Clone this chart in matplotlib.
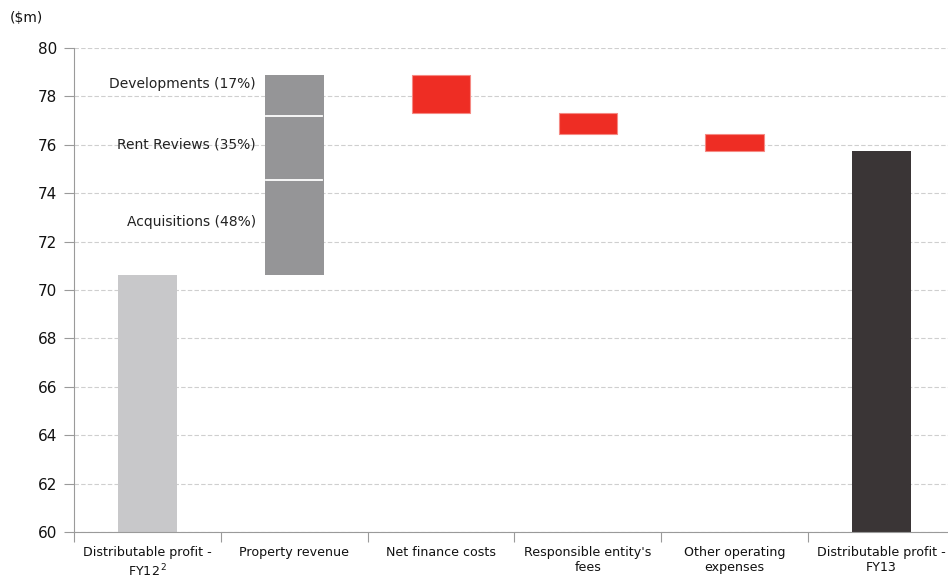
import matplotlib.pyplot as plt
import numpy as np

# waterfall values ($m)
categories = ["Distributable profit -\nFY12$^{\\,2}$", "Property revenue", "Net finance costs",
              "Responsible entity's\nfees", "Other operating\nexpenses", "Distributable profit -\nFY13"]
fy12 = 70.6
revenue_parts = [3.95, 2.65, 1.7]          # acquisitions, rent reviews, developments
revenue_labels = ["Acquisitions (48%)", "Rent Reviews (35%)", "Developments (17%)"]
cost_changes = [-1.6, -0.85, -0.7]
fy13 = 75.75

LIGHT = "#c8c8ca"
MID = "#959597"
RED = "#ee2d24"
DARK = "#3a3536"
AXIS = "#9a9a9a"

plt.rcParams["font.family"] = ["DejaVu Sans"]

fig = plt.figure(figsize=(9.48, 5.78), dpi=100)
ax = fig.add_axes([74 / 948, 46 / 578, 881 / 948, 484 / 578])
ax.set_xlim(-0.5, 5.5)
ax.set_ylim(60, 80)

w = 0.4
ax.bar(0, fy12 - 60, bottom=60, width=w, color=LIGHT, zorder=2)

# property revenue stacked segments
bottoms = fy12 + np.concatenate([[0], np.cumsum(revenue_parts)[:-1]])
ax.bar([1] * 3, revenue_parts, bottom=bottoms, width=w, color=MID, zorder=2)
for b in bottoms[1:]:
    ax.plot([1 - w / 2 + 0.01, 1 + w / 2 - 0.01], [b, b], color="white", lw=1.3, zorder=3)

label_y = [72.8, 76.03, 78.5]
for txt, yy in zip(revenue_labels, label_y):
    ax.text(0.74, yy, txt, ha="right", va="center", fontsize=10, color="#222222", zorder=4)

# cost decrements
level = fy12 + sum(revenue_parts)
for i, c in enumerate(cost_changes):
    ax.bar(2 + i, -c, bottom=level + c, width=w, color=RED,
           edgecolor="#f58a84", linewidth=0.8, zorder=2)
    level += c

ax.bar(5, fy13 - 60, bottom=60, width=w, color=DARK, zorder=2)

# grid and axes styling
ax.set_yticks(np.arange(60, 81, 2))
ax.yaxis.grid(True, linestyle=(0, (4, 2)), color="#cfcfcf", lw=0.8, zorder=0)
ax.set_axisbelow(True)
for s in ["top", "right"]:
    ax.spines[s].set_visible(False)
ax.spines["left"].set_color(AXIS)
ax.spines["bottom"].set_color(AXIS)
ax.tick_params(axis="y", colors=AXIS, labelcolor="#111111", labelsize=11, length=7, width=0.8, pad=5)

ax.set_xticks(range(6))
ax.set_xticklabels(categories, fontsize=9.1, color="#111111", linespacing=1.25)
ax.set_xticks(np.arange(-0.5, 6, 1), minor=True)
ax.tick_params(axis="x", which="major", length=0, pad=10)
ax.tick_params(axis="x", which="minor", length=7, color=AXIS, width=0.8)

fig.text(10 / 948, 1 - 18 / 578, "($m)", fontsize=10, va="center", ha="left", color="#111111")

fig.savefig("out.png", dpi=100, facecolor="white")
